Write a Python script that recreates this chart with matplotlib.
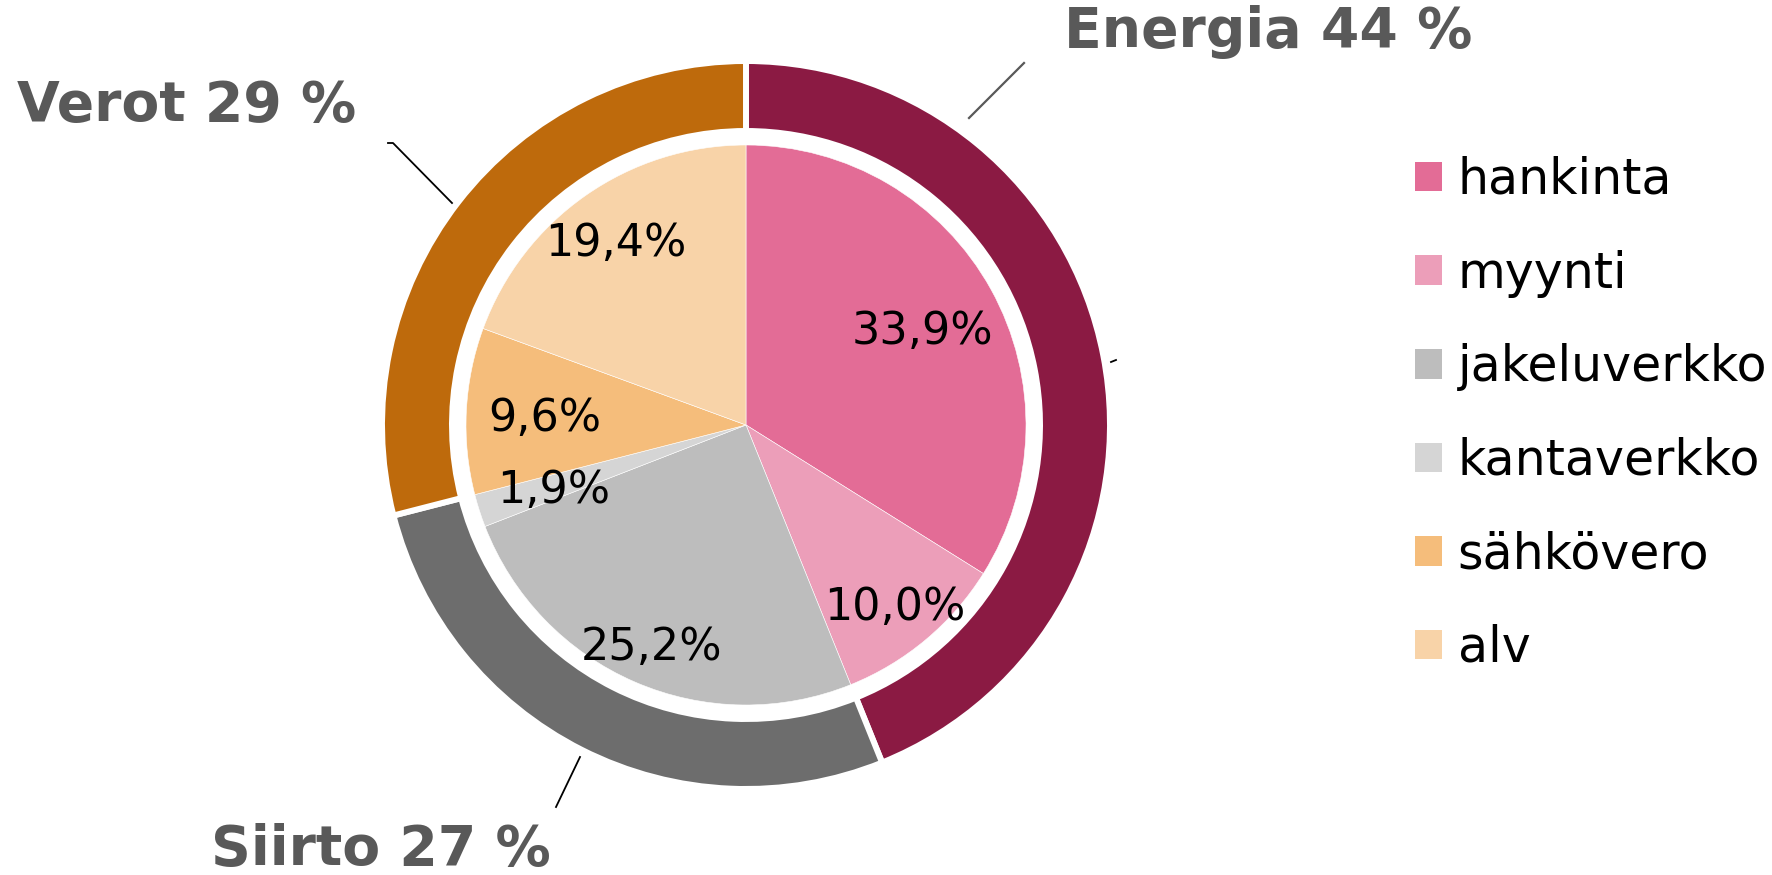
import matplotlib
matplotlib.use('Agg')
import matplotlib.pyplot as plt
from matplotlib.patches import Patch
import numpy as np

# inner pie: components of the electricity price
parts = ['hankinta', 'myynti', 'jakeluverkko', 'kantaverkko', 'sähkövero', 'alv']
part_shares = [33.9, 10.0, 25.2, 1.9, 9.6, 19.4]
part_colors = ['#E36C96', '#EC9EB9', '#BDBDBD', '#D5D5D5', '#F5BD7B', '#F8D3A8']

# outer ring: groups
groups = ['Energia', 'Siirto', 'Verot']
group_shares = [43.9, 27.1, 29.0]
group_labels = ['44 %', '27 %', '29 %']
group_colors = ['#8B1A43', '#6D6D6D', '#BE6A0C']

W, H = 1772, 875
fig = plt.figure(figsize=(W / 100, H / 100), dpi=100)
ax = fig.add_axes([0, 0, 1, 1])

cx, cy = 746, H - 425

outer, _ = ax.pie(group_shares, colors=group_colors, startangle=90, counterclock=False,
                  radius=364, center=(cx, cy),
                  wedgeprops=dict(width=70, edgecolor='white', linewidth=4.3))

inner, _ = ax.pie(part_shares, colors=part_colors, startangle=90, counterclock=False,
                  radius=280, center=(cx, cy),
                  wedgeprops=dict(edgecolor='white', linewidth=0.4))

# percentage labels inside the inner pie
label_r = [0.72, 0.83, 0.85, 0.72, 0.72, 0.81]
for w, v, r in zip(inner, part_shares, label_r):
    ang = np.deg2rad((w.theta1 + w.theta2) / 2)
    x = cx + 280 * r * np.cos(ang)
    y = cy + 280 * r * np.sin(ang) - 4
    ax.text(x, y, f'{v:.1f}%'.replace('.', ','), ha='center', va='center',
            fontsize=32, color='black')

# group labels with leader lines
grey = '#595959'
ax.text(1064, H - 32, f'{groups[0]} {group_labels[0]}', fontsize=39.8, fontweight='bold',
        color=grey, ha='left', va='center')
ax.plot([969, 1024], [H - 118, H - 63], color=grey, lw=1.6)

ax.text(17, H - 106, f'{groups[2]} {group_labels[2]}', fontsize=39.8, fontweight='bold',
        color=grey, ha='left', va='center')
ax.plot([388, 393, 452], [H - 143, H - 143, H - 203], color='black', lw=1.3)

ax.text(211, H - 850, f'{groups[1]} {group_labels[1]}', fontsize=39.8, fontweight='bold',
        color=grey, ha='left', va='center')
ax.plot([580, 556], [H - 757, H - 807], color='black', lw=1.3)

ax.plot([1111, 1116], [H - 362, H - 360], color='black', lw=1.3)

handles = [Patch(facecolor=c, edgecolor='none') for c in part_colors]
ax.legend(handles, parts, loc='upper left', bbox_to_anchor=(1415 / W, 1 - 156 / H),
          frameon=False, fontsize=35.3, handlelength=0.55, handleheight=0.55,
          handletextpad=0.32, labelspacing=0.93, borderaxespad=0, borderpad=0)

ax.set_xlim(0, W)
ax.set_ylim(0, H)
ax.set_aspect('equal')
ax.axis('off')

fig.savefig('out.png', dpi=100)
